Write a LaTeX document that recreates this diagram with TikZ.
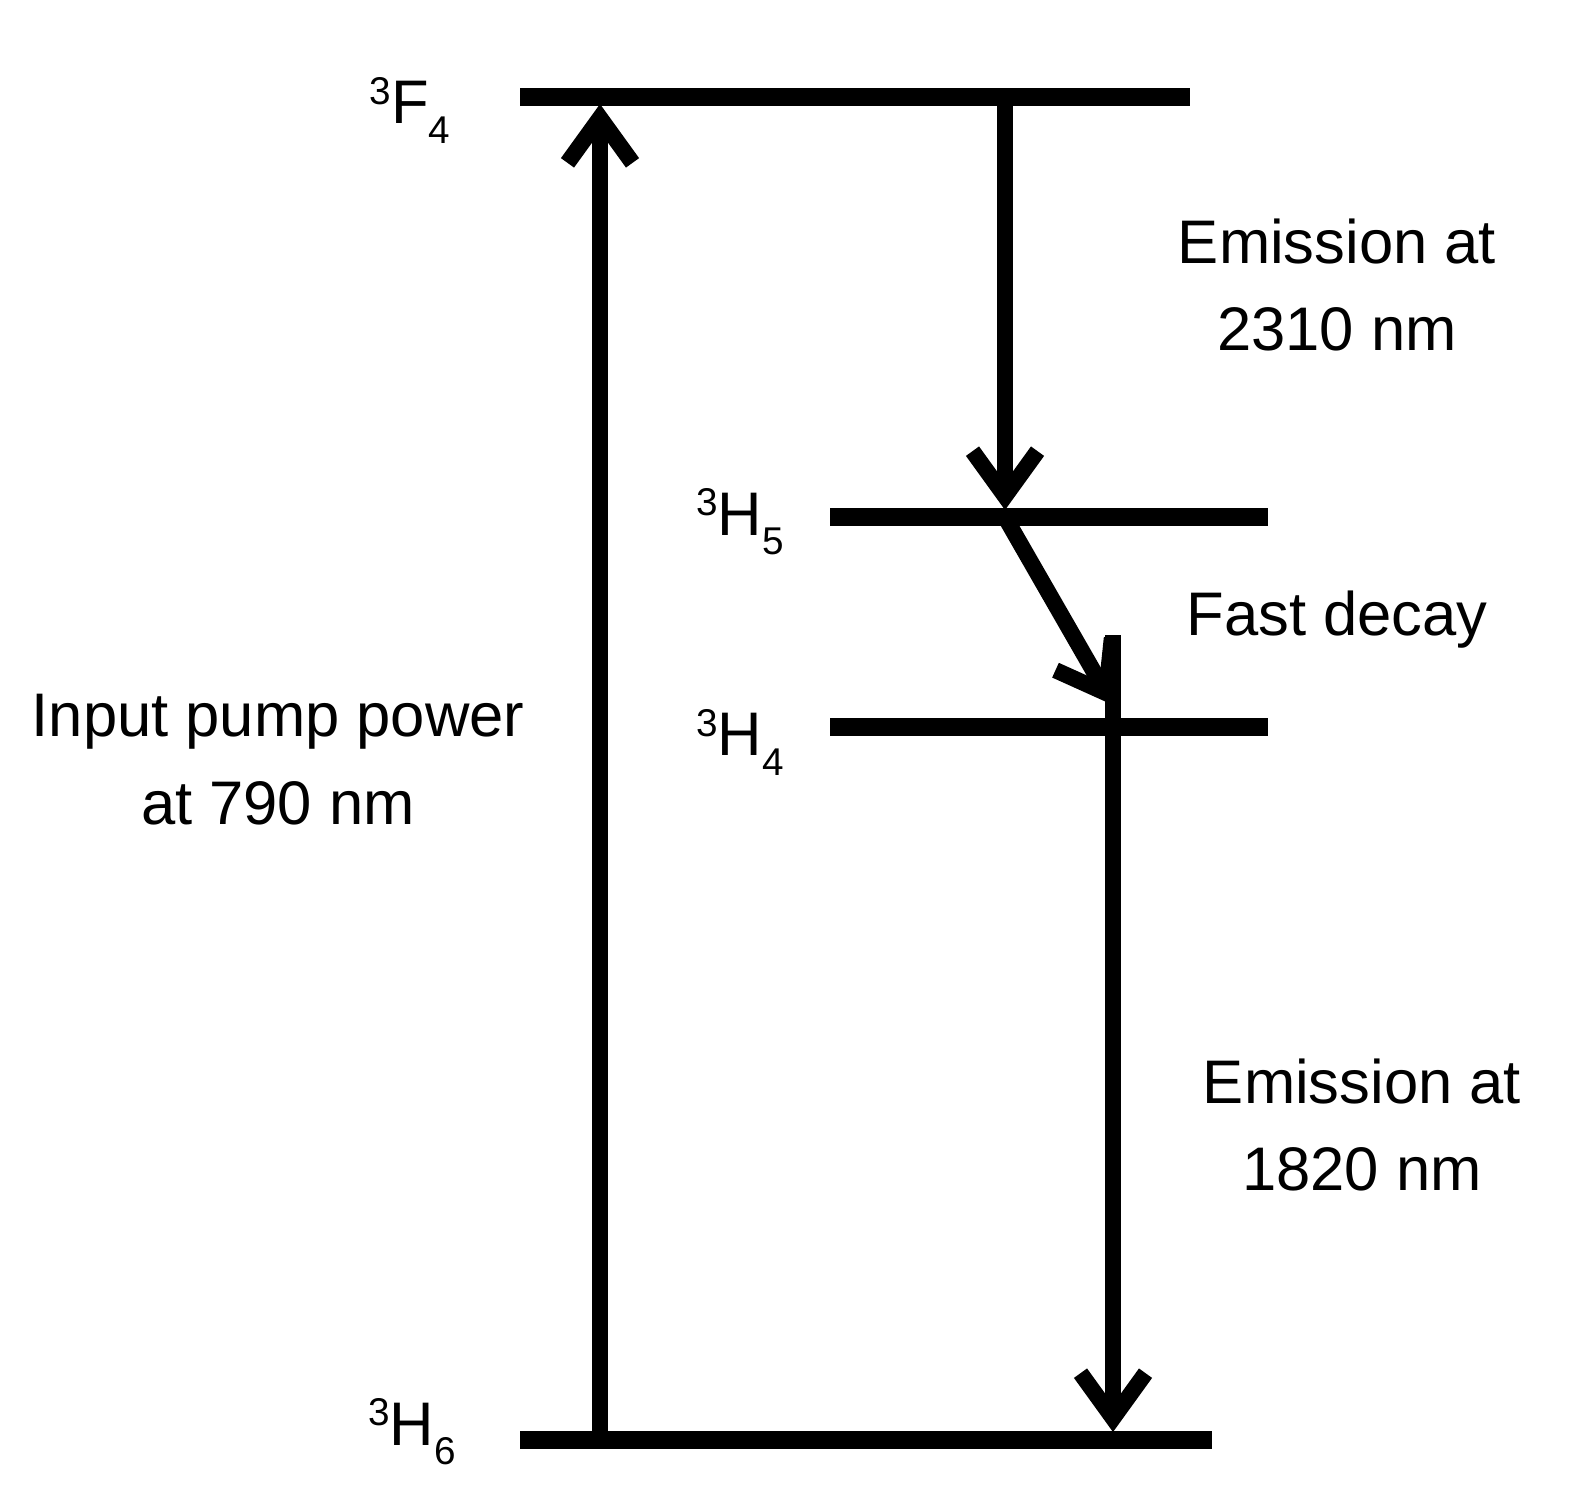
\documentclass[tikz,border=0pt]{standalone}
\usepackage{fontspec}
\setmainfont{Liberation Sans}
\usetikzlibrary{arrows.meta}
\newcommand{\supx}[1]{\raisebox{0.6ex}{\fontsize{11}{13}\selectfont #1}}
\newcommand{\subx}[1]{\raisebox{-0.6ex}{\fontsize{11}{13}\selectfont #1}}
\begin{document}
\begin{tikzpicture}[x=0.01cm,y=-0.01cm,
 lev/.style={line width=5.2pt},
 arr/.style={line width=4.6pt,-{Straight Barb[length=4.5mm,width=6.5mm,line width=4.6pt]}},
 lab/.style={font=\fontsize{17.5}{21}\selectfont},
 txt/.style={font=\fontsize{17.5}{25}\selectfont,align=center}]
\useasboundingbox (0,0) rectangle (1582,1511);
\coordinate (f4l) at (520,97); \coordinate (f4r) at (1190,97);
\coordinate (h5l) at (830,517); \coordinate (h5r) at (1268,517);
\coordinate (h4l) at (830,727); \coordinate (h4r) at (1268,727);
\coordinate (h6l) at (520,1440); \coordinate (h6r) at (1212,1440);
\draw[lev] (f4l) -- (f4r);
\draw[lev] (h5l) -- (h5r);
\draw[lev] (h4l) -- (h4r);
\draw[lev] (h6l) -- (h6r);
\coordinate (p0) at (600,1440); \coordinate (p1) at (600,104);
\coordinate (e0) at (1005,100); \coordinate (e1) at (1005,510);
\coordinate (d0) at (1005,517); \coordinate (d1) at (1113,705);
\coordinate (g0) at (1113,635); \coordinate (g1) at (1113,1432);
\draw[arr] (p0) -- (p1);
\draw[arr] (e0) -- (e1);
\draw[arr] (d0) -- (d1);
\draw[arr] (g0) -- (g1);
\node[lab] (lf4) at (410,110) {\supx{3}F\subx{4}};
\node[lab] (lh5) at (740,522) {\supx{3}H\subx{5}};
\node[lab] (lh4) at (740,742) {\supx{3}H\subx{4}};
\node[lab] (lh6) at (412,1432) {\supx{3}H\subx{6}};
\node[txt] (t1) at (1337,285) {Emission at\\2310 nm};
\node[txt] (t2) at (1337,620) {Fast decay};
\node[txt] (t3) at (278,760) {Input pump power\\at 790 nm};
\node[txt] (t4) at (1362,1125) {Emission at\\1820 nm};
\end{tikzpicture}
\end{document}
